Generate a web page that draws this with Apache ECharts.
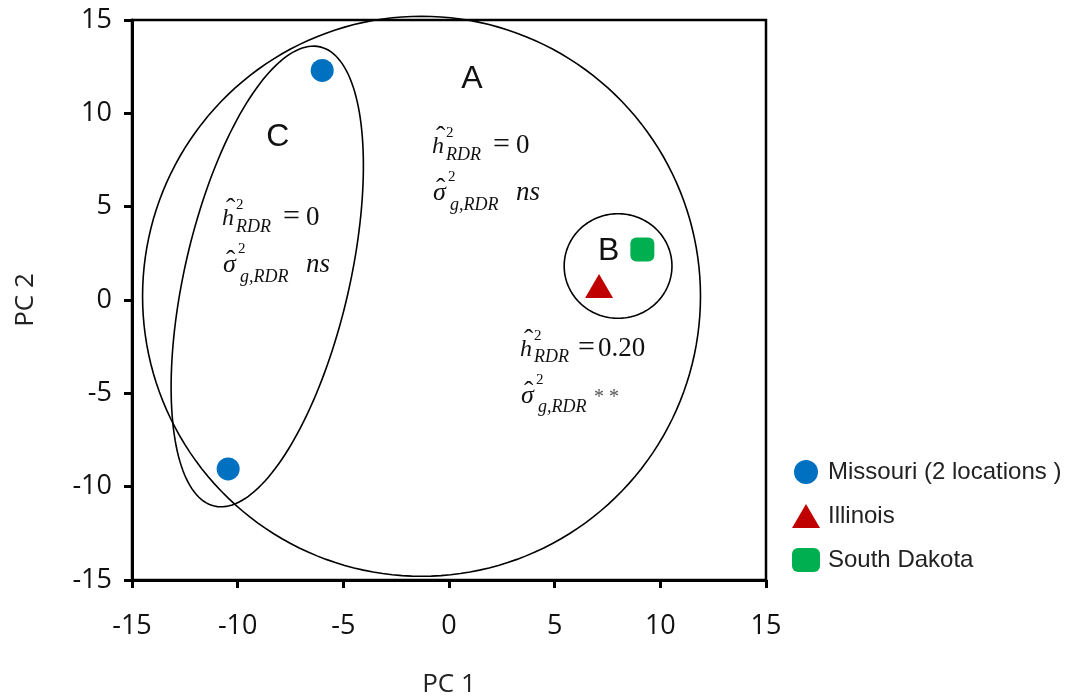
<!DOCTYPE html>
<html>
<head>
<meta charset="utf-8">
<title>PCA of environments</title>
<script src="https://cdn.jsdelivr.net/npm/echarts@6/dist/echarts.min.js"></script>
<style>
  html, body { margin: 0; background: #fff; }
  #chart { width: 1077px; height: 698px; }
</style>
</head>
<body>
<div id="chart"></div>
<script>
// point values (PC 1, PC 2)
const missouriPoints = [[-6.0, 12.3], [-10.45, -9.05]]
const illinoisPoints = [[7.1, 0.75]]
const southDakotaPoints = [[9.15, 2.7]]

const seriesNames = ['Missouri (2 locations )', 'Illinois', 'South Dakota']

// group annotations
const groupLetters = ['A', 'B', 'C']
const groupLetterAt = [[1.08, 11.85], [7.55, 2.6], [-8.1, 8.7]]
const heritability = ['0', '0.20', '0']
const significance = ['ns', '**', 'ns']
const formulaAt = [[-0.8, 7.77], [3.36, -3.1], [-10.74, 3.91]]

// group outlines (data units)
const outlines = [
  { center: [-1.3, 0.2], radii: [13.2, 15.0] },
  { center: [8.0, 1.82], radii: [2.55, 2.8] },
  { tips: [[-6.1, 13.56], [-11.1, -11.04]], halfWidth: 3.9 }
]

const SERIF = '"Liberation Serif", "DejaVu Serif", serif'
const SANS = '"Liberation Sans", Arial, sans-serif'
const AXISFONT = '"Open Sans", "Liberation Sans", sans-serif'

const chart = echarts.init(document.getElementById('chart'))

function ellipsePoints(cx, cy, a, b, ang) {
  const pts = []
  const ca = Math.cos(ang)
  const sa = Math.sin(ang)
  for (let k = 0; k <= 180; k++) {
    const t = (k / 180) * Math.PI * 2
    const u = a * Math.cos(t)
    const v = b * Math.sin(t)
    pts.push([cx + u * ca - v * sa, cy + u * sa + v * ca])
  }
  return pts
}

function renderOutline(params, api) {
  const o = outlines[params.dataIndex]
  let pts
  if (o.tips) {
    const p1 = api.coord(o.tips[0])
    const p2 = api.coord(o.tips[1])
    const cx = (p1[0] + p2[0]) / 2
    const cy = (p1[1] + p2[1]) / 2
    const a = Math.hypot(p1[0] - p2[0], p1[1] - p2[1]) / 2
    const b = api.size([o.halfWidth, 0])[0]
    pts = ellipsePoints(cx, cy, a, b, Math.atan2(p1[1] - p2[1], p1[0] - p2[0]))
  } else {
    const c = api.coord(o.center)
    const s = api.size(o.radii)
    pts = ellipsePoints(c[0], c[1], s[0], s[1], 0)
  }
  return {
    type: 'polyline',
    shape: { points: pts },
    style: { fill: null, stroke: '#000', lineWidth: 1.6 },
    silent: true
  }
}

// one text piece, placed by its baseline
function piece(x, base, text, size, italic, color) {
  return {
    type: 'text',
    x: x,
    y: base - size * 0.34,
    style: {
      text: text,
      fontSize: size,
      fontFamily: SERIF,
      fontStyle: italic ? 'italic' : 'normal',
      fill: color || '#111',
      align: 'left',
      verticalAlign: 'middle'
    },
    silent: true
  }
}

const eqOffset = [61, 58, 61]
const valOffset = [84, 78, 84]

function renderFormula(params, api) {
  const i = params.dataIndex
  const p = api.coord([api.value(0), api.value(1)])
  const x = p[0]
  const y = p[1]
  const kids = [
    piece(x, y, 'h', 24, true),
    piece(x + 4, y - 8, 'ˆ', 28, false),
    piece(x + 14, y - 17, '2', 15, false),
    piece(x + 14, y + 6, 'RDR', 18, true),
    piece(x + eqOffset[i], y, '=', 30, false),
    piece(x + valOffset[i], y, heritability[i], 27, false),
    piece(x + 1, y + 47, 'σ', 26, true),
    piece(x + 4, y + 44, 'ˆ', 28, false),
    piece(x + 16, y + 27, '2', 15, false),
    piece(x + 18, y + 56, 'g,RDR', 18, true)
  ]
  if (significance[i] === '**') {
    kids.push(piece(x + 74, y + 47, '* *', 20, false, '#555'))
  } else {
    kids.push(piece(x + 84, y + 47, significance[i], 27, true))
  }
  return { type: 'group', children: kids }
}

function renderLetter(params, api) {
  const p = api.coord([api.value(0), api.value(1)])
  return {
    type: 'text',
    x: p[0],
    y: p[1],
    style: {
      text: groupLetters[params.dataIndex],
      fontSize: 32,
      fontFamily: SANS,
      fill: '#111',
      align: 'center',
      verticalAlign: 'middle'
    },
    silent: true
  }
}

const axisCommon = {
  type: 'value',
  min: -15,
  max: 15,
  interval: 5,
  nameLocation: 'middle',
  nameTextStyle: { fontFamily: AXISFONT, fontSize: 26, color: '#222' },
  axisLine: { show: true, onZero: false, lineStyle: { color: '#000', width: 3 } },
  axisTick: { show: true, inside: false, length: 8, lineStyle: { color: '#000', width: 3 } },
  splitLine: { show: false },
  axisLabel: { fontFamily: AXISFONT, fontSize: 27, color: '#111' }
}

const option = {
  backgroundColor: '#fff',
  animation: false,
  grid: {
    left: 132,
    right: 311,
    top: 20,
    bottom: 118,
    outerBoundsMode: 'none',
    show: true,
    borderColor: '#000',
    borderWidth: 2.5
  },
  xAxis: Object.assign({}, axisCommon, {
    name: 'PC 1',
    nameGap: 92,
    axisLabel: Object.assign({}, axisCommon.axisLabel, { margin: 33 })
  }),
  yAxis: Object.assign({}, axisCommon, {
    name: 'PC 2',
    nameGap: 93,
    axisLabel: Object.assign({}, axisCommon.axisLabel, { margin: 20 })
  }),
  legend: {
    orient: 'vertical',
    left: 787,
    top: 455,
    itemWidth: 28,
    itemHeight: 24,
    itemGap: 20,
    data: seriesNames,
    textStyle: { fontFamily: SANS, fontSize: 24, color: '#222', padding: [0, 0, 0, 3] }
  },
  series: [
    {
      type: 'custom',
      renderItem: renderOutline,
      data: outlines.map(o => o.center || o.tips[0]),
      z: 1,
      silent: true
    },
    {
      type: 'custom',
      renderItem: renderFormula,
      data: formulaAt,
      z: 2,
      silent: true
    },
    {
      type: 'custom',
      renderItem: renderLetter,
      data: groupLetterAt,
      z: 2,
      silent: true
    },
    {
      name: seriesNames[0],
      type: 'scatter',
      symbol: 'circle',
      symbolSize: 23,
      data: missouriPoints,
      itemStyle: { color: '#0070C0', opacity: 1 },
      z: 3
    },
    {
      name: seriesNames[1],
      type: 'scatter',
      symbol: 'triangle',
      symbolSize: [28, 24],
      data: illinoisPoints,
      itemStyle: { color: '#C00000', opacity: 1 },
      z: 3
    },
    {
      name: seriesNames[2],
      type: 'scatter',
      symbol: 'roundRect',
      symbolSize: 24,
      data: southDakotaPoints,
      itemStyle: { color: '#00B050', opacity: 1 },
      z: 3
    }
  ]
}

chart.setOption(option)
</script>
</body>
</html>
